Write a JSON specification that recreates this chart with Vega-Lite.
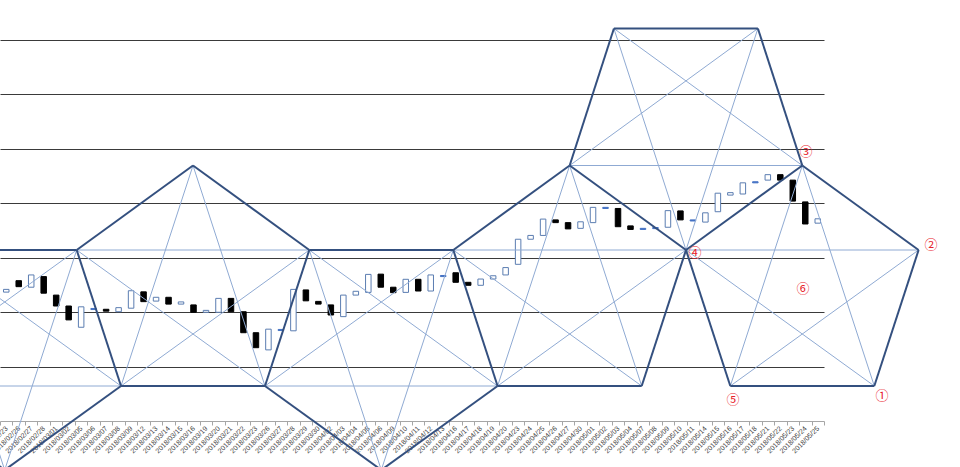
{
  "$schema": "https://vega.github.io/schema/vega-lite/v6.json",
  "width": 824,
  "height": 421,
  "autosize": {"type": "none"},
  "padding": {"left": 0, "top": 0, "right": 136, "bottom": 46},
  "background": "white",
  "config": {
    "view": {"stroke": null},
    "axisY": {"domain": false, "labels": false, "ticks": false, "grid": true, "gridColor": "#3a3a3a", "gridOpacity": 1, "gridWidth": 1}
  },
  "datasets": {
    "candles": [
      {"date": "2018/02/23", "open": 106.73, "close": 106.83},
      {"date": "2018/02/26", "open": 107.15, "close": 106.93},
      {"date": "2018/02/27", "open": 106.91, "close": 107.36},
      {"date": "2018/02/28", "open": 107.30, "close": 106.69},
      {"date": "2018/03/01", "open": 106.62, "close": 106.22},
      {"date": "2018/03/02", "open": 106.22, "close": 105.71},
      {"date": "2018/03/05", "open": 105.44, "close": 106.19},
      {"date": "2018/03/06", "open": 106.09, "close": 106.13},
      {"date": "2018/03/07", "open": 106.10, "close": 106.03},
      {"date": "2018/03/08", "open": 106.01, "close": 106.16},
      {"date": "2018/03/09", "open": 106.14, "close": 106.78},
      {"date": "2018/03/12", "open": 106.74, "close": 106.38},
      {"date": "2018/03/13", "open": 106.40, "close": 106.54},
      {"date": "2018/03/14", "open": 106.54, "close": 106.29},
      {"date": "2018/03/15", "open": 106.29, "close": 106.37},
      {"date": "2018/03/16", "open": 106.26, "close": 105.99},
      {"date": "2018/03/19", "open": 105.99, "close": 106.06},
      {"date": "2018/03/20", "open": 105.99, "close": 106.50},
      {"date": "2018/03/21", "open": 106.50, "close": 106.01},
      {"date": "2018/03/22", "open": 106.01, "close": 105.24},
      {"date": "2018/03/23", "open": 105.24, "close": 104.69},
      {"date": "2018/03/26", "open": 104.61, "close": 105.37},
      {"date": "2018/03/27", "open": 105.32, "close": 105.36},
      {"date": "2018/03/28", "open": 105.31, "close": 106.83},
      {"date": "2018/03/29", "open": 106.81, "close": 106.41},
      {"date": "2018/03/30", "open": 106.39, "close": 106.29},
      {"date": "2018/04/02", "open": 106.26, "close": 105.89},
      {"date": "2018/04/03", "open": 105.83, "close": 106.62},
      {"date": "2018/04/04", "open": 106.62, "close": 106.76},
      {"date": "2018/04/05", "open": 106.72, "close": 107.38},
      {"date": "2018/04/06", "open": 107.39, "close": 106.91},
      {"date": "2018/04/09", "open": 106.91, "close": 106.71},
      {"date": "2018/04/10", "open": 106.72, "close": 107.20},
      {"date": "2018/04/11", "open": 107.20, "close": 106.77},
      {"date": "2018/04/12", "open": 106.77, "close": 107.36},
      {"date": "2018/04/13", "open": 107.30, "close": 107.34},
      {"date": "2018/04/16", "open": 107.44, "close": 107.09},
      {"date": "2018/04/17", "open": 107.09, "close": 106.98},
      {"date": "2018/04/18", "open": 106.98, "close": 107.21},
      {"date": "2018/04/19", "open": 107.21, "close": 107.33},
      {"date": "2018/04/20", "open": 107.36, "close": 107.63},
      {"date": "2018/04/23", "open": 107.75, "close": 108.67},
      {"date": "2018/04/24", "open": 108.67, "close": 108.81},
      {"date": "2018/04/25", "open": 108.81, "close": 109.41},
      {"date": "2018/04/26", "open": 109.38, "close": 109.28},
      {"date": "2018/04/27", "open": 109.28, "close": 109.05},
      {"date": "2018/04/30", "open": 109.07, "close": 109.31},
      {"date": "2018/05/01", "open": 109.28, "close": 109.84},
      {"date": "2018/05/02", "open": 109.80, "close": 109.84},
      {"date": "2018/05/03", "open": 109.80, "close": 109.13},
      {"date": "2018/05/04", "open": 109.16, "close": 109.03},
      {"date": "2018/05/07", "open": 109.03, "close": 109.07},
      {"date": "2018/05/08", "open": 109.06, "close": 109.10},
      {"date": "2018/05/09", "open": 109.11, "close": 109.72},
      {"date": "2018/05/10", "open": 109.71, "close": 109.38},
      {"date": "2018/05/11", "open": 109.34, "close": 109.38},
      {"date": "2018/05/14", "open": 109.30, "close": 109.64},
      {"date": "2018/05/15", "open": 109.68, "close": 110.36},
      {"date": "2018/05/16", "open": 110.29, "close": 110.38},
      {"date": "2018/05/17", "open": 110.33, "close": 110.74},
      {"date": "2018/05/18", "open": 110.74, "close": 110.78},
      {"date": "2018/05/21", "open": 110.84, "close": 111.04},
      {"date": "2018/05/22", "open": 111.04, "close": 110.84},
      {"date": "2018/05/23", "open": 110.84, "close": 110.07},
      {"date": "2018/05/24", "open": 110.04, "close": 109.23},
      {"date": "2018/05/25", "open": 109.26, "close": 109.42}
    ],
    "segments": [
      {"kind": "edge", "x": -5.890, "y": 108.275, "x2": 5.643, "y2": 108.275},
      {"kind": "edge", "x": 5.643, "y": 108.275, "x2": 9.192, "y2": 103.284},
      {"kind": "edge", "x": 9.192, "y": 103.284, "x2": -0.124, "y2": 100.202},
      {"kind": "edge", "x": -0.124, "y": 100.202, "x2": -9.439, "y2": 103.284},
      {"kind": "edge", "x": -9.439, "y": 103.284, "x2": -5.890, "y2": 108.275},
      {"kind": "edge", "x": 5.643, "y": 108.275, "x2": 14.959, "y2": 111.376},
      {"kind": "edge", "x": 14.959, "y": 111.376, "x2": 24.274, "y2": 108.275},
      {"kind": "edge", "x": 24.274, "y": 108.275, "x2": 20.726, "y2": 103.284},
      {"kind": "edge", "x": 20.726, "y": 103.284, "x2": 9.192, "y2": 103.284},
      {"kind": "edge", "x": 24.274, "y": 108.275, "x2": 35.808, "y2": 108.275},
      {"kind": "edge", "x": 35.808, "y": 108.275, "x2": 39.356, "y2": 103.284},
      {"kind": "edge", "x": 39.356, "y": 103.284, "x2": 30.041, "y2": 100.202},
      {"kind": "edge", "x": 30.041, "y": 100.202, "x2": 20.726, "y2": 103.284},
      {"kind": "edge", "x": 35.808, "y": 108.275, "x2": 45.128, "y2": 111.376},
      {"kind": "edge", "x": 45.128, "y": 111.376, "x2": 54.447, "y2": 108.275},
      {"kind": "edge", "x": 54.447, "y": 108.275, "x2": 50.898, "y2": 103.284},
      {"kind": "edge", "x": 50.898, "y": 103.284, "x2": 39.356, "y2": 103.284},
      {"kind": "edge", "x": 45.128, "y": 111.376, "x2": 48.672, "y2": 116.404},
      {"kind": "edge", "x": 48.672, "y": 116.404, "x2": 60.206, "y2": 116.404},
      {"kind": "edge", "x": 60.206, "y": 116.404, "x2": 63.762, "y2": 111.376},
      {"kind": "edge", "x": 63.762, "y": 111.376, "x2": 54.447, "y2": 108.275},
      {"kind": "edge", "x": 63.762, "y": 111.376, "x2": 73.077, "y2": 108.275},
      {"kind": "edge", "x": 73.077, "y": 108.275, "x2": 69.529, "y2": 103.284},
      {"kind": "edge", "x": 69.529, "y": 103.284, "x2": 57.995, "y2": 103.284},
      {"kind": "edge", "x": 57.995, "y": 103.284, "x2": 54.447, "y2": 108.275},
      {"kind": "diagonal", "x": -5.890, "y": 108.275, "x2": 9.192, "y2": 103.284},
      {"kind": "diagonal", "x": -5.890, "y": 108.275, "x2": -0.124, "y2": 100.202},
      {"kind": "diagonal", "x": 5.643, "y": 108.275, "x2": -0.124, "y2": 100.202},
      {"kind": "diagonal", "x": 5.643, "y": 108.275, "x2": -9.439, "y2": 103.284},
      {"kind": "diagonal", "x": 9.192, "y": 103.284, "x2": -9.439, "y2": 103.284},
      {"kind": "diagonal", "x": 5.643, "y": 108.275, "x2": 24.274, "y2": 108.275},
      {"kind": "diagonal", "x": 5.643, "y": 108.275, "x2": 20.726, "y2": 103.284},
      {"kind": "diagonal", "x": 14.959, "y": 111.376, "x2": 20.726, "y2": 103.284},
      {"kind": "diagonal", "x": 14.959, "y": 111.376, "x2": 9.192, "y2": 103.284},
      {"kind": "diagonal", "x": 24.274, "y": 108.275, "x2": 9.192, "y2": 103.284},
      {"kind": "diagonal", "x": 24.274, "y": 108.275, "x2": 39.356, "y2": 103.284},
      {"kind": "diagonal", "x": 24.274, "y": 108.275, "x2": 30.041, "y2": 100.202},
      {"kind": "diagonal", "x": 35.808, "y": 108.275, "x2": 30.041, "y2": 100.202},
      {"kind": "diagonal", "x": 35.808, "y": 108.275, "x2": 20.726, "y2": 103.284},
      {"kind": "diagonal", "x": 20.726, "y": 103.284, "x2": 39.356, "y2": 103.284},
      {"kind": "diagonal", "x": 35.808, "y": 108.275, "x2": 54.447, "y2": 108.275},
      {"kind": "diagonal", "x": 35.808, "y": 108.275, "x2": 50.898, "y2": 103.284},
      {"kind": "diagonal", "x": 45.128, "y": 111.376, "x2": 50.898, "y2": 103.284},
      {"kind": "diagonal", "x": 45.128, "y": 111.376, "x2": 39.356, "y2": 103.284},
      {"kind": "diagonal", "x": 54.447, "y": 108.275, "x2": 39.356, "y2": 103.284},
      {"kind": "diagonal", "x": 45.128, "y": 111.376, "x2": 60.206, "y2": 116.404},
      {"kind": "diagonal", "x": 45.128, "y": 111.376, "x2": 63.762, "y2": 111.376},
      {"kind": "diagonal", "x": 48.672, "y": 116.404, "x2": 63.762, "y2": 111.376},
      {"kind": "diagonal", "x": 48.672, "y": 116.404, "x2": 54.447, "y2": 108.275},
      {"kind": "diagonal", "x": 60.206, "y": 116.404, "x2": 54.447, "y2": 108.275},
      {"kind": "diagonal", "x": 54.447, "y": 108.275, "x2": 73.077, "y2": 108.275},
      {"kind": "diagonal", "x": 54.447, "y": 108.275, "x2": 69.529, "y2": 103.284},
      {"kind": "diagonal", "x": 63.762, "y": 111.376, "x2": 57.995, "y2": 103.284},
      {"kind": "diagonal", "x": 63.762, "y": 111.376, "x2": 69.529, "y2": 103.284},
      {"kind": "diagonal", "x": 73.077, "y": 108.275, "x2": 57.995, "y2": 103.284}
    ],
    "points": [
      {"label": "①", "x": 70.15, "y": 102.92},
      {"label": "②", "x": 74.07, "y": 108.46},
      {"label": "③", "x": 64.06, "y": 111.87},
      {"label": "④", "x": 55.17, "y": 108.17},
      {"label": "⑤", "x": 58.21, "y": 102.77},
      {"label": "⑥", "x": 63.82, "y": 106.84}
    ]
  },
  "layer": [
    {
      "data": {"name": "candles"},
      "mark": {"type": "bar", "width": 5.5, "strokeWidth": 1},
      "encoding": {
        "x": {
          "field": "date", "type": "ordinal", "sort": null,
          "scale": {"paddingInner": 0, "paddingOuter": 0},
          "axis": {
            "title": null, "labelAngle": -45, "labelAlign": "right", "labelBaseline": "middle",
            "labelFontSize": 7, "labelColor": "#404040", "labelFont": "Liberation Sans",
            "labelOverlap": false, "labelPadding": 2, "tickBand": "extent",
            "tickColor": "#A6A6A6", "tickSize": 4, "domainColor": "#A6A6A6", "grid": false
          }
        },
        "y": {
          "field": "open", "type": "quantitative",
          "scale": {"domain": [102, 117.45], "nice": false, "zero": false},
          "axis": {"title": null, "values": [104, 106, 108, 110, 112, 114, 116]}
        },
        "y2": {"field": "close"},
        "fill": {
          "condition": [
            {"test": "abs(datum.close - datum.open) < 0.05", "value": "#4472C4"},
            {"test": "datum.close > datum.open", "value": "#ffffff"}
          ],
          "value": "#000000"
        },
        "stroke": {
          "condition": [
            {"test": "abs(datum.close - datum.open) < 0.05", "value": "#4472C4"},
            {"test": "datum.close > datum.open", "value": "#5B7DB1"}
          ],
          "value": "#000000"
        }
      }
    },
    {
      "data": {"name": "segments"},
      "transform": [{"filter": "datum.kind == 'diagonal'"}],
      "mark": {"type": "rule", "color": "#8FAAD3", "strokeWidth": 1},
      "encoding": {
        "x": {"field": "x", "type": "quantitative", "scale": {"domain": [-0.5, 65.5], "nice": false, "zero": false}, "axis": null},
        "x2": {"field": "x2"},
        "y": {"field": "y", "type": "quantitative", "scale": {"domain": [102, 117.45], "nice": false, "zero": false}, "axis": {"title": null, "values": [104, 106, 108, 110, 112, 114, 116]}},
        "y2": {"field": "y2"}
      }
    },
    {
      "data": {"name": "segments"},
      "transform": [{"filter": "datum.kind == 'edge'"}],
      "mark": {"type": "rule", "color": "#34507F", "strokeWidth": 2},
      "encoding": {
        "x": {"field": "x", "type": "quantitative", "scale": {"domain": [-0.5, 65.5], "nice": false, "zero": false}, "axis": null},
        "x2": {"field": "x2"},
        "y": {"field": "y", "type": "quantitative", "scale": {"domain": [102, 117.45], "nice": false, "zero": false}, "axis": {"title": null, "values": [104, 106, 108, 110, 112, 114, 116]}},
        "y2": {"field": "y2"}
      }
    },
    {
      "data": {"name": "points"},
      "mark": {"type": "text", "color": "#E8202A", "fontSize": 13, "font": "Noto Sans CJK JP"},
      "encoding": {
        "x": {"field": "x", "type": "quantitative", "scale": {"domain": [-0.5, 65.5], "nice": false, "zero": false}, "axis": null},
        "y": {"field": "y", "type": "quantitative", "scale": {"domain": [102, 117.45], "nice": false, "zero": false}, "axis": {"title": null, "values": [104, 106, 108, 110, 112, 114, 116]}},
        "text": {"field": "label"}
      }
    }
  ],
  "resolve": {"scale": {"x": "independent"}}
}
